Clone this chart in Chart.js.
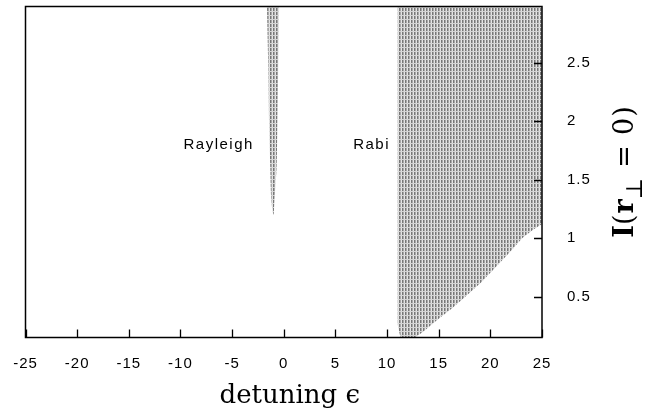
<!DOCTYPE html>
<html>
<head>
<meta charset="utf-8">
<script src="https://cdn.jsdelivr.net/npm/chart.js@4.4.1/dist/chart.umd.min.js"></script>
<style>
  html, body { margin: 0; padding: 0; background: #fff; }
  #wrap { width: 661px; height: 417px; }
</style>
</head>
<body>
<div id="wrap"><canvas id="phaseChart"></canvas></div>
<script>
// axis ticks
const xTicks = [-25, -20, -15, -10, -5, 0, 5, 10, 15, 20, 25];
const yTicks = [0.5, 1, 1.5, 2, 2.5];
const yMin = 0.15, yMax = 2.98;

// Rayleigh region: narrow wedge near zero detuning (boundary, filled up to top)
const rayleighX = [-1.62, -1.5, -1.4, -1.3, -1.2, -1.0, -0.9, -0.7, -0.63, -0.53, -0.44];
const rayleighY = [2.98, 2.46, 1.89, 1.6, 1.32, 1.2, 1.32, 1.6, 1.89, 2.46, 2.98];

// Rabi region: left edge then lower boundary curve (filled up to top)
const rabiX = [11.0, 11.0, 11.3, 12.7, 13.5, 14.3, 15.0, 16.3, 17.6, 19.1, 20.6, 21.9, 23.1, 24.1, 25.0];
const rabiY = [2.98, 0.27, 0.15, 0.15, 0.2, 0.26, 0.31, 0.4, 0.5, 0.62, 0.76, 0.88, 1.0, 1.07, 1.12];

// region labels
const regionLabels = ["Rayleigh", "Rabi"];
const labelX = [-6.3, 8.5];
const labelY = [1.8, 1.8];

const toPoints = (xs, ys) => xs.map((x, i) => ({ x: x, y: ys[i] }));

// stippled grey texture like the scanned figure
function makePattern() {
    const c = document.createElement("canvas");
    c.width = 3; c.height = 4;
    const g = c.getContext("2d");
    g.fillStyle = "#e4e4e4"; g.fillRect(0, 0, 3, 4);
    g.fillStyle = "#777"; g.fillRect(0, 0, 1, 4);
    g.fillStyle = "#a8a8a8"; g.fillRect(1, 0, 1, 4);
    g.fillStyle = "#d4d4d4"; g.fillRect(0, 3, 3, 1);
    return g.createPattern(c, "repeat");
}
const shade = makePattern();

const tickFont = "15px 'Liberation Sans', Arial, sans-serif";

// frame, inward ticks, tick labels, region labels and axis titles
const decorPlugin = {
    id: "decor",
    afterDraw(chart) {
        const ctx = chart.ctx;
        const a = chart.chartArea;
        const xs = chart.scales.x, ys = chart.scales.y;
        ctx.save();
        ctx.strokeStyle = "#000";
        ctx.lineWidth = 1.5;
        ctx.strokeRect(a.left, a.top, a.right - a.left, a.bottom - a.top);
        ctx.lineWidth = 1.3;
        ctx.beginPath();
        xTicks.forEach(v => {
            const px = Math.round(xs.getPixelForValue(v)) + 0.5;
            ctx.moveTo(px, a.bottom); ctx.lineTo(px, a.bottom - 8);
        });
        yTicks.forEach(v => {
            const py = Math.round(ys.getPixelForValue(v)) + 0.5;
            ctx.moveTo(a.right, py); ctx.lineTo(a.right - 8, py);
        });
        ctx.stroke();

        // tick labels
        ctx.fillStyle = "#000";
        ctx.font = tickFont;
        ctx.letterSpacing = "1px";
        ctx.textBaseline = "middle";
        ctx.textAlign = "center";
        xTicks.forEach(v => ctx.fillText(String(v), xs.getPixelForValue(v), a.bottom + 26));
        ctx.textAlign = "left";
        yTicks.forEach(v => ctx.fillText(String(v), a.right + 25, ys.getPixelForValue(v)));

        // region labels
        ctx.letterSpacing = "1.5px";
        ctx.font = "15px 'Liberation Sans', Arial, sans-serif";
        ctx.textAlign = "center";
        regionLabels.forEach((t, i) => {
            ctx.fillText(t, xs.getPixelForValue(labelX[i]), ys.getPixelForValue(labelY[i]));
        });
        ctx.letterSpacing = "0px";

        // x title
        ctx.font = "26px 'DejaVu Serif', serif";
        ctx.textAlign = "center";
        ctx.fillText("detuning \u03F5", (a.left + a.right) / 2 + 6, 396);

        // y title, rotated
        ctx.translate(624, (a.top + a.bottom) / 2);
        ctx.rotate(-Math.PI / 2);
        const parts = [
            { t: "I", f: "bold 27px 'DejaVu Serif', serif", dy: 0, gap: 0 },
            { t: "(", f: "27px 'DejaVu Serif', serif", dy: 0, gap: 1 },
            { t: "r", f: "bold 27px 'DejaVu Serif', serif", dy: 0, gap: 0 },
            { t: "\u22A5", f: "23px 'DejaVu Serif', serif", dy: 9, gap: 10 },
            { t: "=", f: "27px 'DejaVu Serif', serif", dy: 0, gap: 10 },
            { t: "0", f: "27px 'DejaVu Serif', serif", dy: 0, gap: 1 },
            { t: ")", f: "27px 'DejaVu Serif', serif", dy: 0, gap: 0 }
        ];
        let total = 0;
        parts.forEach(p => { ctx.font = p.f; p.w = ctx.measureText(p.t).width; total += p.w + p.gap; });
        let cx = -total / 2;
        ctx.textAlign = "left";
        ctx.textBaseline = "alphabetic";
        parts.forEach(p => {
            ctx.font = p.f;
            ctx.fillText(p.t, cx, 9 + p.dy);
            cx += p.w + p.gap;
        });
        ctx.restore();
    }
};

const config = {
    type: "scatter",
    data: {
        datasets: [
            {
                label: "Rayleigh",
                data: toPoints(rayleighX, rayleighY),
                showLine: true,
                fill: "end",
                backgroundColor: shade,
                borderWidth: 0,
                pointRadius: 0,
                tension: 0.3
            },
            {
                label: "Rabi",
                data: toPoints(rabiX, rabiY),
                showLine: true,
                fill: "end",
                backgroundColor: shade,
                borderWidth: 0,
                pointRadius: 0,
                tension: 0
            }
        ]
    },
    options: {
        responsive: true,
        maintainAspectRatio: false,
        animation: false,
        layout: { padding: { left: 25.5, top: 6.5, right: 0, bottom: 0 } },
        plugins: {
            legend: { display: false },
            tooltip: { enabled: false }
        },
        scales: {
            x: {
                type: "linear",
                min: -25,
                max: 25,
                afterFit: s => { s.height = 79.5; s.paddingLeft = 0; s.paddingRight = 0; },
                grid: { display: false, drawTicks: false },
                border: { display: false },
                ticks: { display: false }
            },
            y: {
                type: "linear",
                position: "right",
                min: yMin,
                max: yMax,
                afterFit: s => { s.width = 119; s.paddingTop = 0; s.paddingBottom = 0; },
                grid: { display: false, drawTicks: false },
                border: { display: false },
                ticks: { display: false }
            }
        }
    },
    plugins: [decorPlugin]
};

const ctx = document.getElementById("phaseChart").getContext("2d");
new Chart(ctx, config);
</script>
</body>
</html>
